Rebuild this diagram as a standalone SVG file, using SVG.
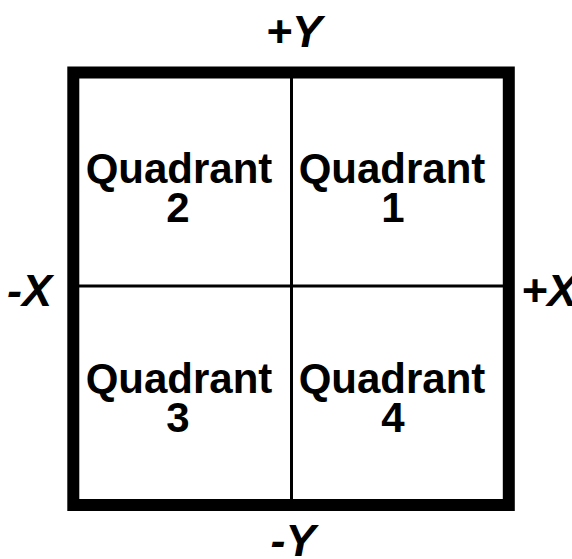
<svg xmlns="http://www.w3.org/2000/svg" width="572" height="559" viewBox="0 0 572 559">
<style>
.q{font-family:"Liberation Sans",Arial,sans-serif;font-weight:bold;font-size:42px;text-anchor:middle;fill:#000}
.ax{font-family:"Liberation Sans",Arial,sans-serif;font-weight:bold;font-style:italic;font-size:45px;fill:#000}
</style>
<rect width="572" height="559" fill="#fff"/>
<g id="connectors" stroke="#000" fill="none">
<rect x="73.3" y="72.5" width="435.5" height="432.5" stroke-width="12"/>
<line x1="291.5" y1="72" x2="291.5" y2="505" stroke-width="3"/>
<line x1="73" y1="286" x2="509" y2="286" stroke-width="3"/>
</g>
<g id="q2"><text class="q" x="179" y="183">Quadrant</text><text class="q" x="178" y="222">2</text></g>
<g id="q1"><text class="q" x="392" y="183">Quadrant</text><text class="q" x="393" y="222">1</text></g>
<g id="q3"><text class="q" x="179" y="393">Quadrant</text><text class="q" x="178" y="432">3</text></g>
<g id="q4"><text class="q" x="392" y="393">Quadrant</text><text class="q" x="393" y="432">4</text></g>
<g id="py"><text class="ax" x="294" y="47" text-anchor="middle">+Y</text></g>
<g id="my"><text class="ax" x="293" y="556" text-anchor="middle">-Y</text></g>
<g id="mx"><text class="ax" x="7" y="306">-X</text></g>
<g id="px"><text class="ax" x="521" y="306">+X</text></g>
</svg>
